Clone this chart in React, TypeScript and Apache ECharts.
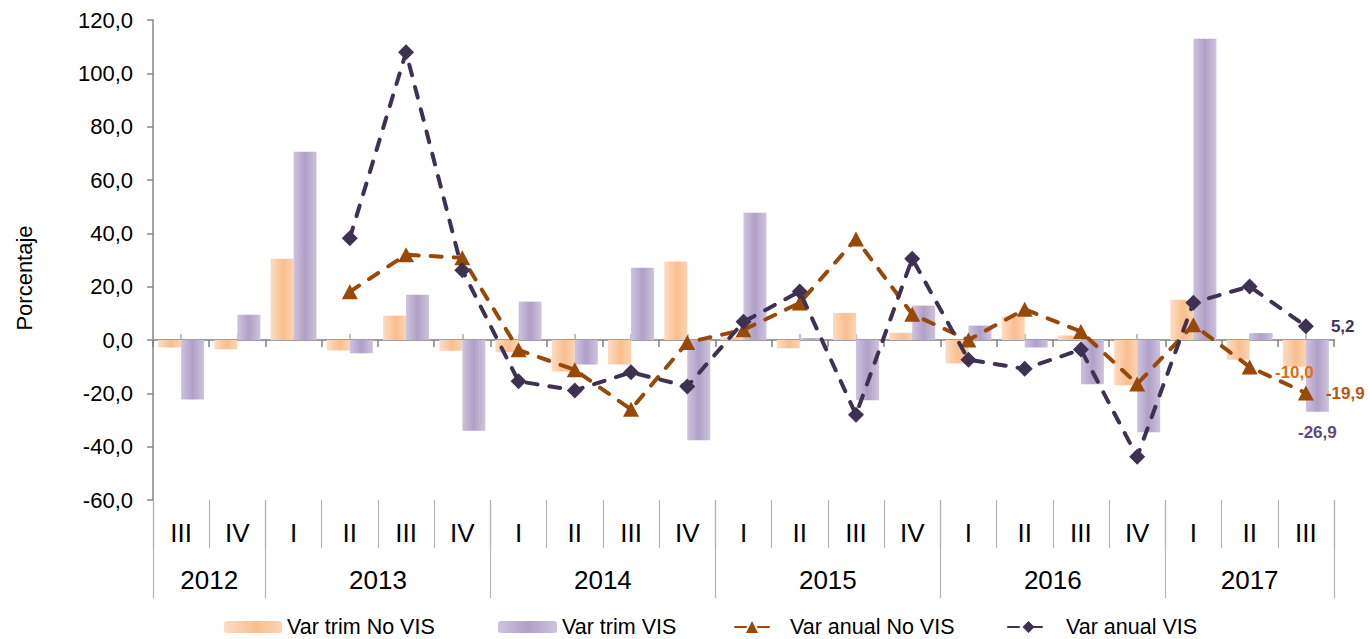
import React, { useEffect, useRef } from 'react';
import * as echarts from 'echarts';

const years = ['2012', '2013', '2014', '2015', '2016', '2017'];
const quartersPerYear = [2, 4, 4, 4, 4, 3];
const quarterLabels = ['III', 'IV', 'I', 'II', 'III', 'IV', 'I', 'II', 'III', 'IV', 'I', 'II', 'III', 'IV', 'I', 'II', 'III', 'IV', 'I', 'II', 'III'];

const varTrimNoVis = [-2.8, -3.5, 30.5, -3.9, 9.1, -4.0, -4.6, -11.8, -9.2, 29.4, 1.0, -3.1, 10.2, 2.7, -8.8, 8.7, 1.7, -17.0, 15.1, -7.4, -10.0];
const varTrimVis = [-22.3, 9.5, 70.6, -5.0, 17.0, -34.0, 14.4, -9.2, 27.1, -37.6, 47.7, 0.7, -22.6, 12.9, 5.4, -2.8, -16.6, -34.6, 113.0, 2.6, -26.9];
const varAnualNoVis = [null, null, null, 18.1, 32.0, 30.8, -3.7, -11.2, -26.0, -0.9, 3.8, 13.9, 37.9, 9.7, 0.0, 11.5, 3.2, -16.5, 5.7, -10.1, -19.9];
const varAnualVis = [null, null, null, 38.2, 107.9, 26.2, -15.5, -18.9, -12.1, -17.4, 6.8, 18.2, -28.0, 30.5, -7.4, -10.8, -3.6, -43.8, 14.0, 20.1, 5.2];

const yMin = -60;
const yMax = 120;
const yStep = 20;

const FONT = "'Liberation Sans', Arial, sans-serif";
const fmt = (v: number) => v.toFixed(1).replace('.', ',');

export default function App() {
  const ref = useRef<HTMLDivElement>(null);

  useEffect(() => {
    document.body.style.margin = '0';
    if (!ref.current) return;
    const chart = echarts.init(ref.current, null, { renderer: 'svg' });

    const catIds = quarterLabels.map((q, i) => `${q}#${i}`);
    const boundaries: number[] = [0];
    quartersPerYear.forEach((n) => boundaries.push(boundaries[boundaries.length - 1] + n));
    const yearCenters = quartersPerYear.map((n, i) => boundaries[i] + n / 2);
    const total = boundaries[boundaries.length - 1];

    const lastIdx = quarterLabels.length - 1;
    const withLastLabel = (arr: (number | null)[], label: any) =>
      arr.map((v, i) => (i === lastIdx ? { value: v, label: { show: true, ...label } } : v));

    const orangeGrad = new echarts.graphic.LinearGradient(0, 0, 1, 0, [
      { offset: 0, color: '#FDDCC3' },
      { offset: 0.55, color: '#F9BF8E' },
      { offset: 1, color: '#FCD3B2' },
    ]);
    const purpleGrad = new echarts.graphic.LinearGradient(0, 0, 1, 0, [
      { offset: 0, color: '#CEC4DD' },
      { offset: 0.5, color: '#B09FC7' },
      { offset: 1, color: '#CEC4DD' },
    ]);

    const legendBase = {
      top: 611,
      itemHeight: 12,
      textStyle: { fontFamily: FONT, fontSize: 21.5, color: '#000' },
      selectedMode: false,
    };

    chart.setOption({
      animation: false,
      backgroundColor: '#fff',
      grid: { left: 153, top: 20, width: 1181, height: 480, containLabel: false },
      legend: [
        { ...legendBase, left: 219, itemWidth: 58, data: ['Var trim No VIS'] },
        { ...legendBase, left: 493, itemWidth: 59, data: ['Var trim VIS'] },
        { ...legendBase, left: 729, itemWidth: 34, itemHeight: 15, data: ['Var anual No VIS'], textStyle: { ...legendBase.textStyle, padding: [0, 0, 0, 16] } },
        { ...legendBase, left: 1002, itemWidth: 41, itemHeight: 15, data: ['Var anual VIS'], textStyle: { ...legendBase.textStyle, padding: [0, 0, 0, 12] } },
      ],
      xAxis: [
        {
          type: 'category',
          data: catIds,
          position: 'bottom',
          axisLine: { onZero: true, onZeroAxisIndex: 0, lineStyle: { color: '#9E9E9E', width: 2 } },
          axisTick: { show: true, length: 7, lineStyle: { color: '#7F7F7F', width: 1.5 } },
          axisLabel: { show: false },
          splitLine: { show: false },
        },
        {
          type: 'category',
          data: catIds,
          position: 'top',
          axisLine: { onZero: true, onZeroAxisIndex: 1, show: true, lineStyle: { color: '#9E9E9E', width: 2 } },
          axisTick: { show: true, alignWithLabel: true, length: 6, lineStyle: { color: '#ABABAB', width: 1.5 } },
          axisLabel: { show: false },
          splitLine: { show: false },
        },
        {
          type: 'category',
          data: catIds,
          position: 'bottom',
          axisLine: { onZero: false, show: false },
          axisTick: { show: true, length: 48, lineStyle: { color: '#B4B4B4', width: 1.2 } },
          axisLabel: {
            show: true,
            interval: 0,
            margin: 20,
            fontFamily: FONT,
            fontSize: 26,
            color: '#000',
            formatter: (_v: string, idx: number) => quarterLabels[idx],
          },
          splitLine: { show: false },
        },
        {
          type: 'value',
          min: 0,
          max: total,
          position: 'bottom',
          axisLine: { onZero: false, show: false },
          axisTick: { show: true, customValues: boundaries, length: 98, lineStyle: { color: '#B4B4B4', width: 1.2 } },
          axisLabel: {
            show: true,
            customValues: yearCenters,
            margin: 67,
            fontFamily: FONT,
            fontSize: 26,
            color: '#000',
            formatter: (v: number) => {
              const i = yearCenters.findIndex((c) => Math.abs(c - v) < 1e-6);
              return i >= 0 ? years[i] : '';
            },
          },
          splitLine: { show: false },
        },
      ],
      yAxis: [
        {
          type: 'value',
          min: yMin,
          max: yMax,
          interval: yStep,
          position: 'left',
          name: 'Porcentaje',
          nameLocation: 'middle',
          nameGap: 118,
          nameTextStyle: { fontFamily: FONT, fontSize: 22, color: '#000', padding: [0, 36, 0, 0] },
          axisLine: { show: true, onZero: false, lineStyle: { color: '#868686', width: 1.5 } },
          axisTick: { show: true, length: 6, lineStyle: { color: '#868686', width: 1.5 } },
          axisLabel: { fontFamily: FONT, fontSize: 22, color: '#000', margin: 20, formatter: (v: number) => fmt(v) },
          splitLine: { show: false },
        },
        {
          type: 'value',
          min: yMin,
          max: yMax,
          interval: yStep,
          position: 'right',
          axisLine: { show: false, onZero: false },
          axisTick: { show: false },
          axisLabel: { show: false },
          splitLine: { show: false },
        },
      ],
      series: [
        {
          name: 'Var trim No VIS',
          type: 'bar',
          barWidth: 23,
          barGap: '0%',
          itemStyle: { color: orangeGrad },
          data: withLastLabel(varTrimNoVis, {
            position: 'bottom',
            distance: -3,
            fontFamily: FONT,
            fontSize: 17,
            fontWeight: 'bold',
            color: '#E46C0A',
            formatter: (p: any) => fmt(p.value),
          }),
        },
        {
          name: 'Var trim VIS',
          type: 'bar',
          barWidth: 23,
          barGap: '0%',
          itemStyle: { color: purpleGrad },
          data: withLastLabel(varTrimVis, {
            position: 'bottom',
            distance: 12,
            fontFamily: FONT,
            fontSize: 17,
            fontWeight: 'bold',
            color: '#5F497A',
            formatter: (p: any) => fmt(p.value),
          }),
        },
        {
          name: 'Var anual No VIS',
          type: 'line',
          symbol: 'triangle',
          symbolSize: [16, 15],
          itemStyle: { color: '#984807' },
          lineStyle: { color: '#984807', width: 4, type: [11, 12], cap: 'round' },
          connectNulls: false,
          z: 3,
          data: withLastLabel(varAnualNoVis, {
            position: 'right',
            distance: 12,
            fontFamily: FONT,
            fontSize: 17,
            fontWeight: 'bold',
            color: '#B8560E',
            formatter: (p: any) => fmt(p.value),
          }),
        },
        {
          name: 'Var anual VIS',
          type: 'line',
          symbol: 'diamond',
          symbolSize: 16,
          itemStyle: { color: '#3F3151' },
          lineStyle: { color: '#3F3151', width: 4, type: [11, 12], cap: 'round' },
          connectNulls: false,
          z: 4,
          data: withLastLabel(varAnualVis, {
            position: 'right',
            distance: 17,
            fontFamily: FONT,
            fontSize: 17,
            fontWeight: 'bold',
            color: '#3F3456',
            formatter: (p: any) => fmt(p.value),
          }),
        },
      ],
    });

    return () => chart.dispose();
  }, []);

  return <div ref={ref} style={{ width: 1370, height: 639 }} />;
}
